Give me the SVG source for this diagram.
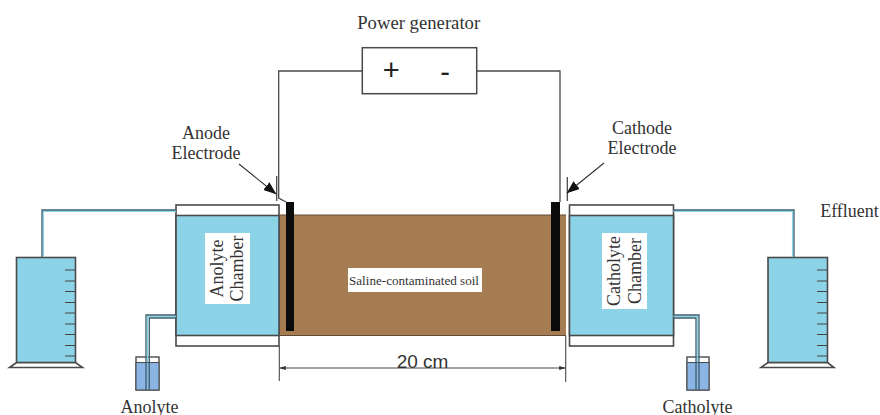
<svg xmlns="http://www.w3.org/2000/svg" width="880" height="415" viewBox="0 0 880 415">
<style>
.t{font-family:"Liberation Serif","Times New Roman",serif;fill:#333;font-size:18px;text-anchor:middle}
.s{font-family:"Liberation Sans",Arial,sans-serif;fill:#222;text-anchor:middle}
.l{fill:none;stroke:#4a4a4a;stroke-width:1.3}
.b{stroke:#4a4a4a;stroke-width:1.6;fill:#8cd3e8}
.w{stroke:#4a4a4a;stroke-width:1.6;fill:#fff}
.tube{fill:none;stroke:#3d5f6d;stroke-width:1.3}
.lite{fill:none;stroke:#8cd3e8;stroke-width:1.5}
.tk{stroke:#444;stroke-width:1.2}
</style>
<defs>
<marker id="ah" markerUnits="userSpaceOnUse" markerWidth="13" markerHeight="10" refX="12.500" refY="5" orient="auto"><path d="M0,0L13,5L0,10Z" fill="#111"/></marker>
<marker id="dm" markerUnits="userSpaceOnUse" markerWidth="7" markerHeight="5" refX="6.500" refY="2.500" orient="auto-start-reverse"><path d="M0,0.500L7,2.500L0,4.500Z" fill="#333"/></marker>
</defs>
<rect width="880" height="415" fill="#fff"/>
<g id="soil"><rect x="280" y="215" width="286" height="121" fill="#a67c52"/><path d="M280,215H566M280,335.500H566" stroke="#5f4a35" stroke-width="1" fill="none"/><rect x="348" y="268" width="134" height="24" fill="#fff"/><text x="414" y="285" class="t" style="font-size:13px" textLength="130" lengthAdjust="spacingAndGlyphs">Saline-contaminated soil</text></g>
<g id="anode-bar"><rect x="286" y="202" width="8" height="129" fill="#0b0b0b"/></g>
<g id="cathode-bar"><rect x="551" y="202" width="9" height="129" fill="#0b0b0b"/></g>
<g id="anolyte-chamber"><rect x="176" y="205" width="103" height="141" class="w"/><rect x="176" y="215.500" width="103" height="120" class="b"/><rect x="205" y="233" width="45" height="71" fill="#fff"/><text transform="translate(222.500,268.500) rotate(-90)" class="t">Anolyte</text><text transform="translate(243,268.500) rotate(-90)" class="t">Chamber</text></g>
<g id="catholyte-chamber"><rect x="569.500" y="205" width="104" height="141" class="w"/><rect x="569.500" y="215.500" width="104" height="120" class="b"/><rect x="602" y="233" width="45" height="76" fill="#fff"/><text transform="translate(620,271) rotate(-90)" class="t">Catholyte</text><text transform="translate(641,271) rotate(-90)" class="t">Chamber</text></g>
<g id="left-cylinder"><path d="M9.500,367.500L16.500,362.500H75.500L82.500,367.500Z" class="w"/><rect x="16.500" y="257.500" width="59" height="105" class="b"/><path class="tk" d="M65,270H75M65,281H75M65,291.500H75M65,302.500H75M65,313H75M65,324H75M65,334.500H75M65,345.500H75M65,356H75"/></g>
<g id="right-cylinder"><path d="M761,367.500L768,362.500H827.500L834,367.500Z" class="w"/><rect x="768" y="257.500" width="59.500" height="105" class="b"/><path class="tk" d="M817,270H827M817,281H827M817,291.500H827M817,302.500H827M817,313H827M817,324H827M817,334.500H827M817,345.500H827M817,356H827"/></g>
<g id="anolyte-beaker"><rect x="136" y="357" width="23" height="33" fill="#fff" stroke="#4a4a4a" stroke-width="1.4"/><rect x="136" y="362.500" width="23" height="27.500" fill="#8ab4e4" stroke="#4a4a4a" stroke-width="1"/></g>
<g id="catholyte-beaker"><rect x="687" y="357" width="22" height="33" fill="#fff" stroke="#4a4a4a" stroke-width="1.4"/><rect x="687" y="362.500" width="22" height="27.500" fill="#8ab4e4" stroke="#4a4a4a" stroke-width="1"/></g>
<g id="power-generator"><rect x="362.300" y="47.700" width="114.400" height="46" fill="#fff" stroke="#4a4a4a" stroke-width="1.5"/><text x="391.300" y="80" class="s" style="font-size:29px">+</text><text x="445" y="82" class="s" style="font-size:29px">-</text></g>
<g id="connectors">
<path class="l" d="M362.300,71H278.700V198L286,202M476.700,71H560V202"/>
<path class="l" d="M276.700,176V201M567.300,177V201"/>
<path class="l" style="stroke-width:1.1" d="M279.300,346V381M565.700,336V382"/>
<path class="l" style="stroke-width:1.1" d="M279.300,368H565.700" marker-start="url(#dm)" marker-end="url(#dm)"/>
<path d="M239,164L276,194" fill="none" stroke="#333" stroke-width="1.1" marker-end="url(#ah)"/>
<path d="M604,163L567,193" fill="none" stroke="#333" stroke-width="1.1" marker-end="url(#ah)"/>
<path class="lite" d="M176,211.300H43.300V257M673.500,211.300H792.700V257"/>
<path class="tube" d="M176,210H42V257M673.500,210H794V257"/>
<path class="lite" stroke-width="2" d="M176,316.500H147.500V362M673.500,316.500H697.500V362"/>
<path class="tube" d="M176,315H146V390M176,318H149.300V390M673.500,315H699V390M673.500,318H696V390"/>
</g>
<g id="labels">
<text x="418.700" y="29" class="t" style="font-size:18.700px">Power generator</text>
<text x="206" y="139" class="t">Anode</text><text x="206" y="159" class="t">Electrode</text>
<text x="642" y="134" class="t">Cathode</text><text x="642" y="154" class="t">Electrode</text>
<text x="849.500" y="217" class="t">Effluent</text>
<text x="149.500" y="412.500" class="t">Anolyte</text><text x="697.500" y="412.500" class="t">Catholyte</text>
<text x="422.500" y="368" class="s" style="font-size:19px;fill:#333">20 cm</text>
</g>
</svg>
